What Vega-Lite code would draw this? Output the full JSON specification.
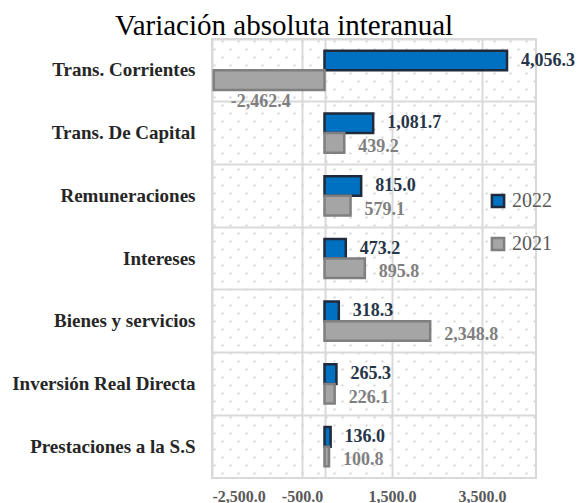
{
  "$schema": "https://vega.github.io/schema/vega-lite/v6.json",
  "width": 324,
  "height": 439,
  "autosize": {"type": "none"},
  "padding": {"left": 212, "top": 39, "right": 43, "bottom": 25},
  "background": "white",
  "title": {
    "text": "Variación absoluta interanual",
    "font": "Liberation Serif",
    "fontSize": 29,
    "fontWeight": "normal",
    "color": "#000000",
    "anchor": "middle",
    "frame": "group",
    "dx": -90,
    "baseline": "alphabetic",
    "offset": -25
  },
  "config": {
    "locale": {"number": {"decimal": ".", "thousands": ",", "grouping": [3], "currency": ["$", ""], "minus": "-"}},
    "view": {"stroke": "#d9d9d9", "strokeWidth": 2},
    "font": "Liberation Serif",
    "legend": {
      "orient": "none",
      "legendX": 276,
      "legendY": 152,
      "title": null,
      "symbolType": "square",
      "symbolSize": 150,
      "symbolStrokeWidth": 2.5,
      "labelFont": "Liberation Serif",
      "labelFontSize": 20,
      "labelColor": "#595959",
      "labelOffset": 4,
      "rowPadding": 19,
      "padding": 0
    }
  },
  "data": {
    "values": [
      {"cat": "Trans. Corrientes", "serie": "2022", "v": 4056.3},
      {"cat": "Trans. Corrientes", "serie": "2021", "v": -2462.4},
      {"cat": "Trans. De Capital", "serie": "2022", "v": 1081.7},
      {"cat": "Trans. De Capital", "serie": "2021", "v": 439.2},
      {"cat": "Remuneraciones", "serie": "2022", "v": 815.0},
      {"cat": "Remuneraciones", "serie": "2021", "v": 579.1},
      {"cat": "Intereses", "serie": "2022", "v": 473.2},
      {"cat": "Intereses", "serie": "2021", "v": 895.8},
      {"cat": "Bienes y servicios", "serie": "2022", "v": 318.3},
      {"cat": "Bienes y servicios", "serie": "2021", "v": 2348.8},
      {"cat": "Inversión Real Directa", "serie": "2022", "v": 265.3},
      {"cat": "Inversión Real Directa", "serie": "2021", "v": 226.1},
      {"cat": "Prestaciones a la S.S", "serie": "2022", "v": 136.0},
      {"cat": "Prestaciones a la S.S", "serie": "2021", "v": 100.8}
    ]
  },
  "resolve": {"axis": {"x": "independent"}},
  "layer": [
    {
      "mark": {"type": "bar"},
      "encoding": {
        "y": {
          "field": "cat", "type": "nominal",
          "scale": {"domain": ["Trans. Corrientes", "Trans. De Capital", "Remuneraciones", "Intereses", "Bienes y servicios", "Inversión Real Directa", "Prestaciones a la S.S"], "paddingInner": 0, "paddingOuter": 0},
          "axis": {
            "title": null, "bandPosition": 0,
            "ticks": false, "domain": false,
            "grid": true, "gridColor": "#d9d9d9", "gridWidth": 2,
            "labelFont": "Liberation Serif", "labelFontSize": 19, "labelFontWeight": "bold",
            "labelColor": "#262626", "labelPadding": 17, "labelLimit": 300
          }
        },
        "yOffset": {
          "field": "serie", "type": "nominal",
          "scale": {"domain": ["2022", "2021"], "paddingInner": 0, "paddingOuter": 0.6}
        },
        "x": {
          "field": "v", "type": "quantitative",
          "scale": {"domain": [-2500, 4700], "nice": false, "zero": false},
          "axis": {
            "title": null, "orient": "bottom",
            "values": [-2500, -500, 0, 1500, 3500],
            "format": ",.1f",
            "labelExpr": "datum.value == 0 ? '' : datum.label",
            "ticks": false, "domain": false,
            "grid": true, "gridColor": "#d9d9d9", "gridWidth": 2,
            "labelFont": "Liberation Serif", "labelFontSize": 16, "labelFontWeight": "bold",
            "labelColor": "#595959", "labelPadding": 10
          }
        },
        "fill": {
          "field": "serie", "type": "nominal",
          "scale": {"domain": ["2022", "2021"], "range": ["#0070C0", "#A5A5A5"]}
        },
        "stroke": {
          "field": "serie", "type": "nominal",
          "scale": {"domain": ["2022", "2021"], "range": ["#1F2A3C", "#7F7F7F"]}
        },
        "strokeWidth": {"value": 2.5}
      }
    },
    {
      "transform": [{"filter": "datum.serie == '2022'"}],
      "mark": {"type": "text", "align": "left", "baseline": "middle", "dx": 14, "fontSize": 18, "fontWeight": "bold", "font": "Liberation Serif", "color": "#263548"},
      "encoding": {
        "y": {"field": "cat", "type": "nominal"},
        "yOffset": {"field": "serie", "type": "nominal"},
        "x": {
          "field": "v", "type": "quantitative",
          "axis": {
            "title": null, "orient": "top", "labels": false, "ticks": false, "domain": false,
            "grid": true, "gridColor": "#d4d4d4", "gridWidth": 2, "gridDash": [2, 14], "gridDashOffset": 7,
            "values": [-2455.6, -2100, -1744.4, -1388.9, -1033.3, -677.8, -322.2, 33.3, 388.9, 744.4, 1100, 1455.6, 1811.1, 2166.7, 2522.2, 2877.8, 3233.3, 3588.9, 3944.4, 4300, 4655.6]
          }
        },
        "text": {"field": "v", "type": "quantitative", "format": ",.1f"}
      }
    },
    {
      "transform": [{"filter": "datum.serie == '2021' && datum.v > 0"}],
      "mark": {"type": "text", "align": "left", "baseline": "middle", "dx": 14, "dy": 4, "fontSize": 18, "fontWeight": "bold", "font": "Liberation Serif", "color": "#7F7F7F"},
      "encoding": {
        "y": {"field": "cat", "type": "nominal"},
        "yOffset": {"field": "serie", "type": "nominal"},
        "x": {
          "field": "v", "type": "quantitative",
          "axis": {
            "title": null, "orient": "top", "labels": false, "ticks": false, "domain": false,
            "grid": true, "gridColor": "#d4d4d4", "gridWidth": 2, "gridDash": [2, 14], "gridDashOffset": 15,
            "values": [-2277.8, -1922.2, -1566.7, -1211.1, -855.6, -500, -144.4, 211.1, 566.7, 922.2, 1277.8, 1633.3, 1988.9, 2344.4, 2700, 3055.6, 3411.1, 3766.7, 4122.2, 4477.8]
          }
        },
        "text": {"field": "v", "type": "quantitative", "format": ",.1f"}
      }
    },
    {
      "transform": [{"filter": "datum.v < 0"}],
      "mark": {"type": "text", "align": "left", "baseline": "middle", "dx": 17, "dy": 22, "fontSize": 18, "fontWeight": "bold", "font": "Liberation Serif", "color": "#7F7F7F"},
      "encoding": {
        "y": {"field": "cat", "type": "nominal"},
        "yOffset": {"field": "serie", "type": "nominal"},
        "x": {"field": "v", "type": "quantitative", "axis": null},
        "text": {"field": "v", "type": "quantitative", "format": ",.1f"}
      }
    }
  ]
}
